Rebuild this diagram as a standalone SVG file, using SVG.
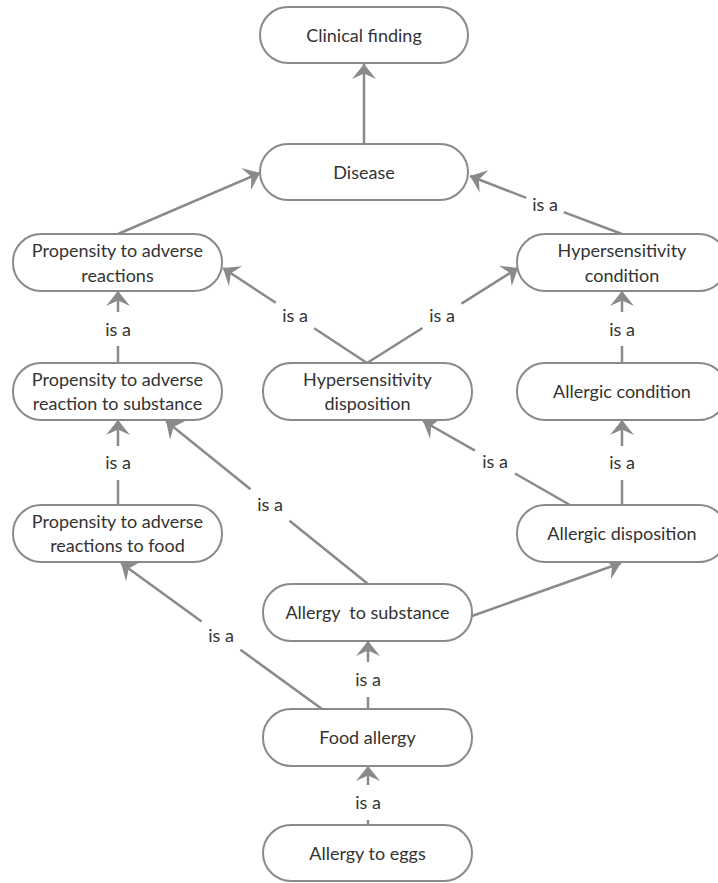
<svg xmlns="http://www.w3.org/2000/svg" width="718" height="883" viewBox="0 0 718 883">
<defs>
<style>
.node rect{fill:#fff;stroke:#8a8a8a;stroke-width:2}
.node text{font-family:Lato,"Open Sans","Liberation Sans",sans-serif;font-size:18px;fill:#333;text-anchor:middle}
.edge{fill:none;stroke:#8a8a8a;stroke-width:2.5}
.lbl{font-family:Lato,"Open Sans","Liberation Sans",sans-serif;font-size:18px;fill:#333;text-anchor:middle}
</style>
<marker id="arr" viewBox="-16 -13 17 26" refX="0" refY="0" markerWidth="17" markerHeight="26" markerUnits="userSpaceOnUse" orient="auto">
<path d="M0,0 L-15,-12 L-9.5,0 L-15,12 Z" fill="#8a8a8a"/>
</marker>
</defs>
<rect width="718" height="883" fill="#fff"/>
<g id="connectors">
<path class="edge" d="M364,144 L364,64" marker-end="url(#arr)"/>
<path class="edge" d="M118,234 L260,173" marker-end="url(#arr)"/>
<path class="edge" d="M622,234 L563.7,212.1 M526.3,197.9 L470,176" marker-end="url(#arr)"/>
<path class="edge" d="M367,363 L314.2,328.2 M275.8,302.8 L223,268" marker-end="url(#arr)"/>
<path class="edge" d="M367,363 L422.5,328 M461.5,303.6 L518,268" marker-end="url(#arr)"/>
<path class="edge" d="M622,363 L622,346 M622,312 L622,291" marker-end="url(#arr)"/>
<path class="edge" d="M118,363 L118,346 M118,312 L118,291" marker-end="url(#arr)"/>
<path class="edge" d="M118,505 L118,480 M118,446 L118,420" marker-end="url(#arr)"/>
<path class="edge" d="M622,505 L622,480 M622,446 L622,420" marker-end="url(#arr)"/>
<path class="edge" d="M368,584 L289.5,520.7 M250.5,489.3 L166,421" marker-end="url(#arr)"/>
<path class="edge" d="M570,505 L515,473.5 M475,450.7 L423,421" marker-end="url(#arr)"/>
<path class="edge" d="M472,616 L621,563" marker-end="url(#arr)"/>
<path class="edge" d="M322,709 L240.4,649.7 M201.6,621.5 L121,563" marker-end="url(#arr)"/>
<path class="edge" d="M368,709 L368,697 M368,662 L368,641" marker-end="url(#arr)"/>
<path class="edge" d="M368,825 L368,820 M368,785 L368,766" marker-end="url(#arr)"/>
<text class="lbl" x="545" y="211">is a</text>
<text class="lbl" x="295" y="322">is a</text>
<text class="lbl" x="442" y="322">is a</text>
<text class="lbl" x="118" y="336">is a</text>
<text class="lbl" x="622" y="336">is a</text>
<text class="lbl" x="118" y="469">is a</text>
<text class="lbl" x="622" y="469">is a</text>
<text class="lbl" x="270" y="511">is a</text>
<text class="lbl" x="495" y="468">is a</text>
<text class="lbl" x="221" y="642">is a</text>
<text class="lbl" x="368" y="686">is a</text>
<text class="lbl" x="368" y="809">is a</text>
</g>
<g id="clinical-finding" class="node"><rect x="260" y="7" width="208" height="56" rx="28"/><text x="364" y="41.5">Clinical finding</text></g>
<g id="disease" class="node"><rect x="260" y="144" width="208" height="56" rx="28"/><text x="364" y="178.5">Disease</text></g>
<g id="propensity-reactions" class="node"><rect x="13" y="234" width="209" height="57" rx="28"/><text x="117.5" y="257">Propensity to adverse</text><text x="117.5" y="282">reactions</text></g>
<g id="hypersensitivity-condition" class="node"><rect x="517" y="234" width="210" height="57" rx="28"/><text x="622" y="257">Hypersensitivity</text><text x="622" y="282">condition</text></g>
<g id="propensity-substance" class="node"><rect x="13" y="363" width="209" height="57" rx="28"/><text x="117.5" y="385.5">Propensity to adverse</text><text x="117.5" y="410">reaction to substance</text></g>
<g id="hypersensitivity-disposition" class="node"><rect x="263" y="363" width="209" height="57" rx="28"/><text x="367.5" y="385.5">Hypersensitivity</text><text x="367.5" y="410">disposition</text></g>
<g id="allergic-condition" class="node"><rect x="517" y="363" width="210" height="57" rx="28"/><text x="622" y="398">Allergic condition</text></g>
<g id="propensity-food" class="node"><rect x="13" y="505" width="209" height="57" rx="28"/><text x="117.5" y="527.5">Propensity to adverse</text><text x="117.5" y="552">reactions to food</text></g>
<g id="allergic-disposition" class="node"><rect x="517" y="505" width="210" height="57" rx="28"/><text x="622" y="540">Allergic disposition</text></g>
<g id="allergy-substance" class="node"><rect x="263" y="584" width="209" height="57" rx="28"/><text x="367.5" y="619" xml:space="preserve">Allergy  to substance</text></g>
<g id="food-allergy" class="node"><rect x="263" y="709" width="209" height="57" rx="28"/><text x="367.5" y="744">Food allergy</text></g>
<g id="allergy-eggs" class="node"><rect x="263" y="825" width="209" height="56" rx="28"/><text x="367.5" y="859.5">Allergy to eggs</text></g>
</svg>
